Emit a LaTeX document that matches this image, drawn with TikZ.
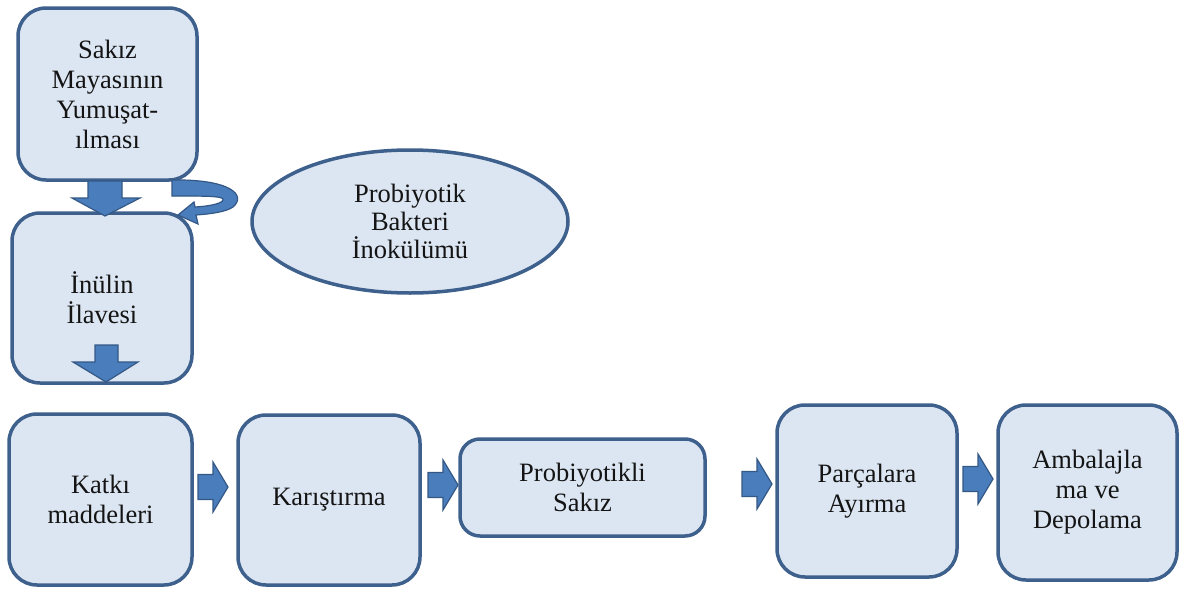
\documentclass[tikz,border=0pt]{standalone}
\usepackage{fontspec}
\setmainfont{Liberation Serif}
\newfontfamily\trserif{Liberation Serif}
\usetikzlibrary{shapes.geometric}
\definecolor{boxfill}{RGB}{220,230,242}
\definecolor{boxline}{RGB}{62,96,140}
\definecolor{arrowfill}{RGB}{74,125,187}
\definecolor{arrowline}{RGB}{52,88,134}
\definecolor{txt}{RGB}{20,20,20}
\tikzset{
  box/.style={draw=boxline, fill=boxfill, line width=3.5pt, rounded corners=28pt,
    align=center, text=txt, font=\trserif\fontsize{26.5}{30}\selectfont, inner sep=2pt},
  oval/.style={ellipse, draw=boxline, fill=boxfill, line width=3.5pt,
    align=center, text=txt, font=\trserif\fontsize{26.5}{28}\selectfont, inner sep=0pt},
  blockarrow/.style={fill=arrowfill, draw=arrowline, line width=1.2pt, line join=miter},
  rblock/.pic={\path[blockarrow] (-15,-12.5) -- (0,-12.5) -- (0,-25) -- (15,0) -- (0,25) -- (0,12.5) -- (-15,12.5) -- cycle;}
}
\begin{document}
\begin{tikzpicture}[x=1pt,y=-1pt]
\useasboundingbox (0,0) rectangle (1181,589);
\fill[white] (0,0) rectangle (1181,589);

\node[box, minimum width=179pt, minimum height=172pt] (b1) at (107.5,94) {Sakız\\Mayasının\\Yumuşat-\\ılması};
\node[box, minimum width=180pt, minimum height=170pt] (b2) at (102,298) {İnülin\\İlavesi};
\node[oval, minimum width=316pt, minimum height=143pt] (e1) at (410,221.5) {Probiyotik\\Bakteri\\İnokülümü};

\node[box, minimum width=183pt, minimum height=171pt] (k1) at (100.5,499.5) {Katkı\\maddeleri};
\node[box, minimum width=182pt, minimum height=170pt] (k2) at (329,500) {Karıştırma};
\node[box, minimum width=245pt, minimum height=97pt, rounded corners=20pt] (k3) at (582.5,487.5) {Probiyotikli\\Sakız};
\node[box, minimum width=180pt, minimum height=172pt] (k4) at (867,491) {Parçalara\\Ayırma};
\node[box, minimum width=179pt, minimum height=175pt] (k5) at (1087.5,492.5) {Ambalajla\\ma ve\\Depolama};

% down arrow between b1 and b2
\path[blockarrow] (88,181) -- (122,181) -- (122,198) -- (140,198) -- (105,216) -- (72,198) -- (88,198) -- cycle;
% down arrow inside b2
\path[blockarrow] (95,345) -- (118,345) -- (118,362) -- (138,362) -- (106,382) -- (73,362) -- (95,362) -- cycle;

% curved arrow
\path[blockarrow] (172,180) .. controls (230,179) and (247,195) .. (233,207)
  .. controls (226,212) and (210,214) .. (196,215)
  -- (198,224) -- (178,215) -- (194,202) -- (195,207)
  .. controls (212,206) and (224,203) .. (223,199)
  .. controls (221,196) and (205,196) .. (172,196) -- cycle;

% right arrows
\pic at (213,487) {rblock};
\pic at (443,485) {rblock};
\pic at (757,484) {rblock};
\pic at (978,479) {rblock};
\end{tikzpicture}
\end{document}
